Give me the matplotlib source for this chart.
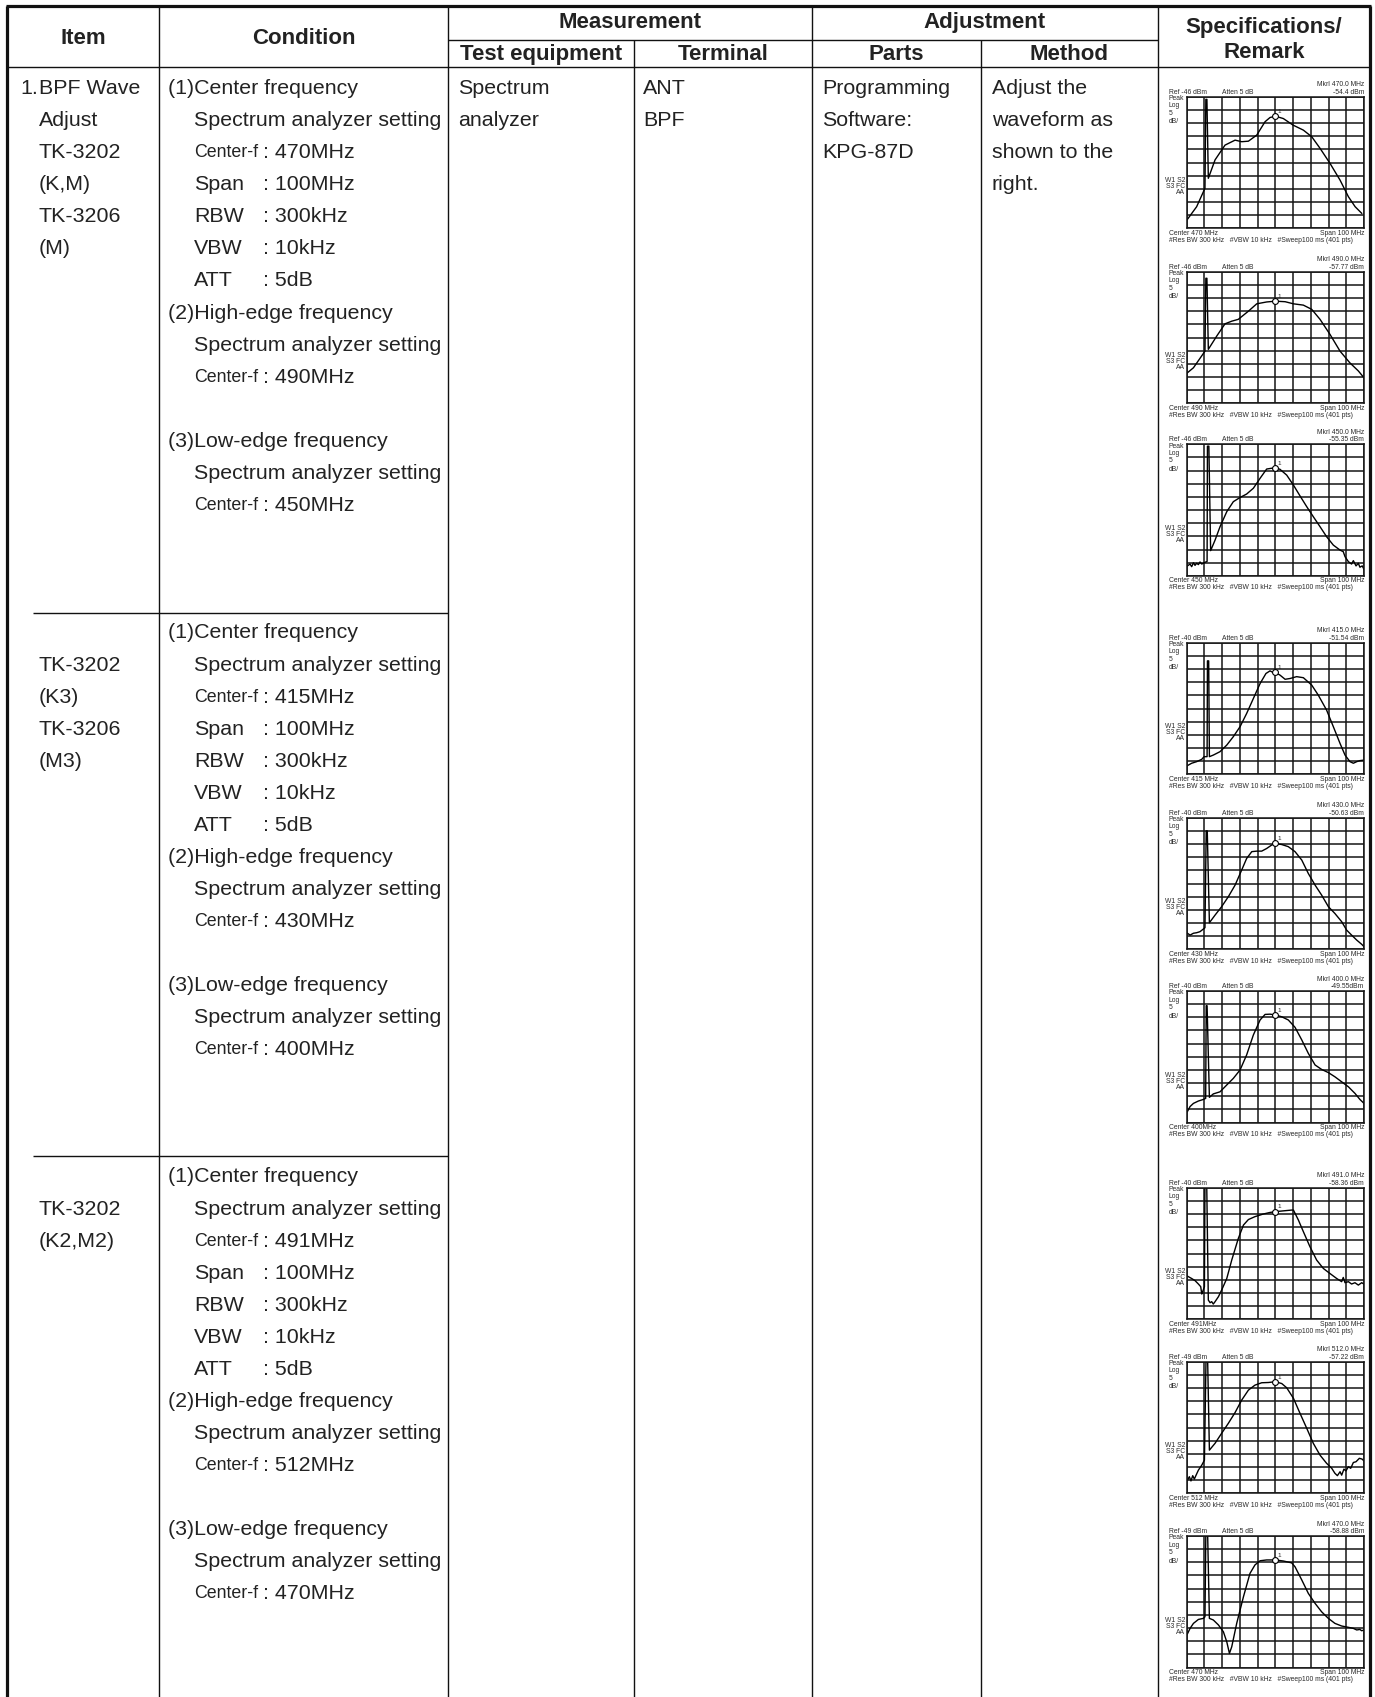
import numpy as np
import matplotlib
matplotlib.use('Agg')
import matplotlib.pyplot as plt
from matplotlib import font_manager

# ---------------- data ----------------
header_item = "Item"
header_condition = "Condition"
header_measure = "Measurement"
header_adjust = "Adjustment"
header_testeq = "Test equipment"
header_terminal = "Terminal"
header_parts = "Parts"
header_method = "Method"
header_spec = ["Specifications/", "Remark"]

item_lines = [["BPF Wave", "Adjust", "TK-3202", "(K,M)", "TK-3206", "(M)"],
              ["", "TK-3202", "(K3)", "TK-3206", "(M3)"],
              ["", "TK-3202", "(K2,M2)"]]
group_centers = [["470MHz", "490MHz", "450MHz"],
                 ["415MHz", "430MHz", "400MHz"],
                 ["491MHz", "512MHz", "470MHz"]]
span_txt, rbw_txt, vbw_txt, att_txt = "100MHz", "300kHz", "10kHz", "5dB"
test_equipment = ["Spectrum", "analyzer"]
terminal = ["ANT", "BPF"]
parts = ["Programming", "Software:", "KPG-87D"]
method = ["Adjust the", "waveform as", "shown to the", "right."]

# spectrum plots: centre (MHz), reference level (dBm), marker readout
spec_center = [470, 490, 450, 415, 430, 400, 491, 512, 470]
spec_center_lbl = ["470 MHz", "490 MHz", "450 MHz", "415 MHz", "430 MHz",
                   "400MHz", "491MHz", "512 MHz", "470 MHz"]
spec_ref = [-46, -46, -46, -40, -40, -40, -40, -49, -49]
spec_mkr = ["-54.4 dBm", "-57.77 dBm", "-55.35 dBm", "-51.54 dBm", "-50.63 dBm",
            "-49.55dBm", "-58.36 dBm", "-57.22 dBm", "-58.88 dBm"]

# traces: frequency offset from centre (MHz) and level below reference (dB)
trace1_mhz = [-49.6, -44.4, -39.7, -39.2, -38.6, -37.8, -34, -28.4, -22.7, -19, -15.2, -10.5, -5.8,
              -3, 0, 4.5, 10, 15.8, 20.5, 25.2, 30.8, 36.5, 41.2, 45, 48.7]
trace1_db = [46.6, 41.8, 34.8, 1, 1, 31, 24, 18.4, 16.5, 17.1, 16.9, 14.6, 9.5,
             7.9, 7.4, 8.3, 10.8, 12.7, 15.2, 19.6, 25.3, 31.7, 38, 41.8, 44.3]

trace2_mhz = [-49.6, -46.2, -39.7, -39.2, -38.6, -37.8, -33.1, -28.4, -24.6, -20.9, -15.2, -10.5,
              -4.9, 0, 5.5, 10.2, 15.8, 20.5, 25.2, 30.8, 36.5, 42, 46.8, 50]
trace2_db = [38.4, 36.5, 30.2, 2.5, 2.5, 29.5, 24.5, 19.8, 18.8, 18.1, 15, 12.2,
             11.5, 11.2, 11.4, 12.2, 12.7, 14.3, 18.1, 23.8, 30.2, 34.6, 37.7, 40.3]

trace3_mhz = [-49.6, -48.1, -47.2, -46.2, -45.3, -44.4, -43.4, -42.5, -41.5, -40.2, -38.5, -38.3,
              -37.5, -36.5, -34, -31.2, -27.4, -23.7, -19.9, -16.2, -12.4, -8.6, -4.9, -2.1, 0,
              2.6, 6.4, 10.2, 13.9, 17.7, 21.4, 25.2, 28.9, 32.7, 36.5, 38.3, 39.3, 41.2, 43,
              44, 45.5, 46.8, 47.7, 49, 50]
trace3_db = [46.2, 45.5, 46.5, 45, 46, 45.2, 45.7, 44.7, 45.5, 45, 44.5, 0.7,
             0.7, 40.4, 36.4, 31.3, 25.6, 21.8, 20.2, 18.9, 16.7, 12.9, 9.4, 9.1, 8.9,
             9.5, 11.7, 15.5, 19.6, 23.7, 27.5, 31.3, 35.1, 38.3, 40.2, 40.8, 42.7, 44.6, 45.5,
             44.2, 46.2, 45.2, 46.7, 46.2, 47.5]

trace4_mhz = [-49.6, -47.2, -44.4, -41.5, -40.2, -38.5, -38.3, -37.6, -37.2, -35, -31.2, -27.4,
              -23.7, -19.9, -16.2, -12.4, -8.6, -5.3, -3, -1.1, 0, 2.6, 5.5, 8.3, 12, 15.8,
              20.5, 24.2, 28.9, 32.7, 36.5, 39.3, 42.1, 44, 45.9, 47.7, 50]
trace4_db = [46.7, 45.8, 45.2, 44.3, 43.3, 43.3, 6.9, 6.9, 43.3, 42.7, 41.4, 38.9,
             35.7, 31.9, 26.9, 21.2, 15.5, 11.7, 10.7, 11.4, 11.3, 12.3, 13.9, 13.6, 12.9, 13.3,
             16.1, 19.9, 25.6, 31.9, 38.3, 42.7, 45.2, 45.8, 45.2, 44.8, 44.6]

trace5_mhz = [-49.6, -48.1, -46.2, -44.4, -42.5, -40.6, -39.7, -39.0, -38.4, -37.2, -34, -30.3,
              -26.5, -22.7, -19, -16.2, -13.3, -10.5, -7.7, -4.9, -2.1, 0, 3.6, 7.3, 11.1,
              14.9, 18.6, 22.4, 26.1, 29.9, 33.6, 37.4, 40.2, 43, 45.9, 48.7, 50]
trace5_db = [43.9, 44.6, 43.9, 43.7, 43.3, 42.3, 41.8, 5, 5, 39.9, 37, 33.8,
             30, 25.6, 19.9, 15.5, 12.9, 12.7, 12.7, 11.7, 10.4, 9.8, 10.2, 11, 12.9,
             16.1, 21.2, 25.6, 29.4, 33.8, 36.4, 39.5, 42.7, 44.6, 46.5, 48.1, 49]

trace6_mhz = [-49.6, -48.1, -46.2, -43.4, -40.6, -39.3, -39.0, -38.5, -37.2, -35, -31.2, -27.4,
              -23.7, -19.9, -16.2, -12.4, -8.6, -5.8, -3, 0, 3.6, 7.3, 11.1, 14.9, 18.6,
              22.4, 26.1, 29.9, 33.6, 37.4, 41.2, 44.9, 47.7, 50]
trace6_db = [45.8, 43.9, 42.7, 41.8, 41.2, 40.8, 5.6, 5.6, 40.4, 39.1, 38.3, 35.7,
             33.2, 30, 24.3, 16.7, 11, 8.9, 8.8, 9.1, 9.8, 11, 13.8, 18.6, 23.7,
             28.1, 29.8, 31, 32.6, 34.5, 36.4, 38.9, 41.2, 42.7]

trace7_mhz = [-49.6, -47.2, -45.3, -43.4, -42.1, -41.5, -41, -40, -39.7, -38.7, -37.8, -36.8,
              -35.9, -35, -34, -32.1, -30.3, -27.4, -24.6, -20.9, -18, -15.2, -11.5, -6.8, -3,
              0, 4.5, 9.2, 10.2, 13, 15.8, 19.5, 23.3, 27.1, 30.8, 34.6, 37.4, 38.3, 39.3,
              41.2, 43, 44.9, 46.8, 48.7, 50]
trace7_db = [33.6, 34.5, 35.3, 36.6, 37.6, 40.4, 39.5, 37.6, -1, -1, 42.7, 43.7,
             43.3, 44.2, 43.3, 41.4, 38.9, 34.5, 27.5, 19.3, 14.2, 12.1, 11, 10, 9.4,
             9.1, 8.8, 8.5, 8.5, 12.3, 16.7, 22.4, 27.5, 30.7, 32.6, 34.5, 35.7, 34.1, 36.1,
             35.7, 36.6, 36.1, 37, 36.1, 36.6]

trace8_mhz = [-49.6, -48.5, -47.6, -46.6, -45.7, -44.7, -43.4, -41.5, -40, -39.1, -38.2, -37.2,
              -34, -30.3, -26.5, -22.7, -19, -15.2, -11.5, -7.7, -3.9, 0, 3.6, 6.4, 10.2,
              13.9, 17.7, 21.4, 25.2, 28.9, 31.8, 33.6, 35, 36.5, 37.4, 38.7, 39.8, 41.2,
              42.5, 44, 45.5, 47.4, 48.9, 50]
trace8_db = [45, 43.7, 45.3, 43.3, 44.6, 43.1, 41.2, 39.3, 37.4, -1, -1, 33.6,
             31, 27.2, 23.4, 19.3, 14.6, 10.8, 8.9, 8, 7.9, 7.6, 8.3, 9.9, 13.9,
             19.6, 25.3, 31, 35.5, 38.6, 40.5, 42.4, 43.3, 41.8, 43.1, 40.8, 41.5, 39.9,
             40.5, 38.3, 38, 36.7, 37, 37.7]

trace9_mhz = [-49.6, -48.1, -46.2, -43.4, -40.6, -39.7, -39.2, -38.2, -37.2, -35, -32.1, -29.3,
              -27.4, -25.9, -24.6, -21.8, -18, -14.3, -11.5, -8.6, -4.9, 0, 4.5, 9.2, 11.1,
              14.9, 18.6, 22.4, 26.1, 29.9, 33.6, 37.4, 41.2, 44, 45.9, 47.7, 48.7, 50]
trace9_db = [37.2, 35.1, 33.2, 31.7, 31.3, 30.7, -1, -1, 31.3, 31.9, 33.8, 36.4,
             40.2, 44.6, 42.1, 33.2, 23.1, 14.2, 11, 9.4, 9.1, 9.1, 9.5, 10.2, 11.7,
             16.7, 21.8, 25.6, 28.8, 31.3, 33.2, 34.2, 34.7, 35.1, 35.7, 35.5, 36, 35.7]

traces = [(trace1_mhz, trace1_db), (trace2_mhz, trace2_db), (trace3_mhz, trace3_db),
          (trace4_mhz, trace4_db), (trace5_mhz, trace5_db), (trace6_mhz, trace6_db),
          (trace7_mhz, trace7_db), (trace8_mhz, trace8_db), (trace9_mhz, trace9_db)]

# ---------------- layout ----------------
W, H, DPI = 1375, 1697, 100
names = {f.name for f in font_manager.fontManager.ttflist}
NARROW = 'Liberation Sans Narrow' in names
BODY = ['Liberation Sans', 'DejaVu Sans']
COND = ['Liberation Sans Narrow', 'Liberation Sans', 'DejaVu Sans'] if NARROW else BODY
HEAD_FS = 17.5 if NARROW else 16.0
BODY_FS = 15.4
CF_FS = 15.4 if NARROW else 12.8     # the condensed "Center-f" label
TXT = '#222222'

fig = plt.figure(figsize=(W / DPI, H / DPI), dpi=DPI)
fig.patch.set_facecolor('white')
ov = fig.add_axes([0, 0, 1, 1])
ov.set_xlim(0, W)
ov.set_ylim(H, 0)
ov.axis('off')

X_L, X_IC, X_CT, X_TT, X_TP, X_PM, X_MS, X_R = 7, 159, 448, 634, 812, 981, 1158, 1370
Y_T, Y_HM, Y_HB = 5.5, 40, 67
thick, thin = 2.3, 1.0

def hline(y, x0, x1, lw=thin):
    ov.plot([x0, x1], [y, y], color='#111', lw=lw, solid_capstyle='butt')

def vline(x, y0, y1, lw=thin):
    ov.plot([x, x], [y0, y1], color='#111', lw=lw, solid_capstyle='butt')

hline(Y_T, X_L - 1, X_R + 1, thick)
vline(X_L, Y_T, H, thick)
vline(X_R, Y_T, H, thick)
for x in (X_IC, X_CT, X_TP, X_MS):
    vline(x, Y_T, H)
for x in (X_TT, X_PM):
    vline(x, Y_HM, H)
hline(Y_HM, X_CT, X_MS)
hline(Y_HB, X_L, X_R)
group_y = [88.7, 633, 1177]
for y in (613, 1156):
    hline(y, 33, X_CT)

hk = dict(family=COND, fontsize=HEAD_FS, fontweight='bold', color=TXT, ha='center', va='center')
ov.text((X_L + X_IC) / 2, 38, header_item, **hk)
ov.text((X_IC + X_CT) / 2, 38, header_condition, **hk)
ov.text((X_CT + X_TP) / 2, 22.5, header_measure, **hk)
ov.text((X_TP + X_MS) / 2, 22.5, header_adjust, **hk)
ov.text((X_CT + X_TT) / 2, 54.5, header_testeq, **hk)
ov.text((X_TT + X_TP) / 2, 54.5, header_terminal, **hk)
ov.text((X_TP + X_PM) / 2, 54.5, header_parts, **hk)
ov.text((X_PM + X_MS) / 2, 54.5, header_method, **hk)
ov.text((X_MS + X_R) / 2, 27.5, header_spec[0], **hk)
ov.text((X_MS + X_R) / 2, 52, header_spec[1], **hk)

bk = dict(family=BODY, fontsize=BODY_FS, color=TXT, ha='left', va='center')
cfk = {**bk, 'family': COND, 'fontsize': CF_FS}
STEP = 32.05

def row(g, i):
    return group_y[g] + i * STEP

# item column
ov.text(20, row(0, 0), "1.", **bk)
for g, lines in enumerate(item_lines):
    for i, t in enumerate(lines):
        if t:
            ov.text(39, row(g, i), t, **bk)

# condition column
COLON_X = 263
for g in range(3):
    c = group_centers[g]
    ov.text(168, row(g, 0), "(1)Center frequency", **bk)
    ov.text(194, row(g, 1), "Spectrum analyzer setting", **bk)
    settings = [("Center-f", c[0]), ("Span", span_txt), ("RBW", rbw_txt),
                ("VBW", vbw_txt), ("ATT", att_txt)]
    for k, (lab, val) in enumerate(settings):
        ov.text(194, row(g, 2 + k), lab, **(cfk if lab == "Center-f" else bk))
        ov.text(COLON_X, row(g, 2 + k), ": " + val, **bk)
    ov.text(168, row(g, 7), "(2)High-edge frequency", **bk)
    ov.text(194, row(g, 8), "Spectrum analyzer setting", **bk)
    ov.text(194, row(g, 9), "Center-f", **cfk)
    ov.text(COLON_X, row(g, 9), ": " + c[1], **bk)
    ov.text(168, row(g, 11), "(3)Low-edge frequency", **bk)
    ov.text(194, row(g, 12), "Spectrum analyzer setting", **bk)
    ov.text(194, row(g, 13), "Center-f", **cfk)
    ov.text(COLON_X, row(g, 13), ": " + c[2], **bk)

for i, t in enumerate(test_equipment):
    ov.text(458, row(0, i), t, **bk)
for i, t in enumerate(terminal):
    ov.text(643, row(0, i), t, **bk)
for i, t in enumerate(parts):
    ov.text(822, row(0, i), t, **bk)
for i, t in enumerate(method):
    ov.text(992, row(0, i), t, **bk)

# ---------------- spectrum screenshots ----------------
plot_tops = [96.7, 271.7, 444.3, 642.7, 817.7, 991, 1187.7, 1361.7, 1536]
GL, GW, GH = 1186.7, 177.3, 131.6
SFS = 4.9
SCOL = '#2a2a2a'
SF = COND

for k in range(9):
    top = plot_tops[k]
    ax = fig.add_axes([GL / W, 1 - (top + GH) / H, GW / W, GH / H])
    cen, ref = spec_center[k], spec_ref[k]
    ax.set_xlim(cen - 50, cen + 50)
    ax.set_ylim(ref - 50, ref)
    ax.set_xticks(np.arange(cen - 50, cen + 51, 10))
    ax.set_yticks(np.arange(ref - 50, ref + 1, 5))
    ax.grid(True, color='#151515', lw=1.1)
    ax.tick_params(length=0, labelbottom=False, labelleft=False)
    for s in ax.spines.values():
        s.set_linewidth(1.1)
        s.set_color('#151515')
    off, drop = traces[k]
    f = cen + np.array(off, float)
    lv = ref - np.array(drop, float)
    ax.plot(f, lv, color='k', lw=1.0)
    my = np.interp(cen, f, lv)
    ax.plot([cen], [my], marker='o', ms=4.2, mfc='white', mec='k', mew=0.8, zorder=5)
    ax.text(cen + 1.2, my + 1.2, '1', fontsize=4.6, color=SCOL, family=SF)
    tk = dict(transform=ax.transAxes, fontsize=SFS, color=SCOL, family=SF, clip_on=False)
    ax.text(1.0, 1.089, "Mkrl %.1f MHz" % cen, ha='right', va='center', **tk)
    ax.text(1.0, 1.035, spec_mkr[k], ha='right', va='center', **tk)
    ax.text(-0.1, 1.035, "Ref %d dBm" % ref, ha='left', va='center', **tk)
    ax.text(0.2, 1.035, "Atten 5 dB", ha='left', va='center', **tk)
    for lab, yy in zip(["Peak", "Log", "5", "dB/"], [0.985, 0.93, 0.875, 0.808]):
        ax.text(-0.1, yy, lab, ha='left', va='center', **tk)
    for lab, yy in zip(["W1 S2", "S3 FC", "AA"], [0.36, 0.315, 0.27]):
        ax.text(-0.01, yy, lab, ha='right', va='center', **tk)
    ax.text(-0.1, -0.036, "Center " + spec_center_lbl[k], ha='left', va='center', **tk)
    ax.text(1.0, -0.036, "Span 100 MHz", ha='right', va='center', **tk)
    ax.text(-0.1, -0.089, "#Res BW 300 kHz   #VBW 10 kHz   #Sweep100 ms (401 pts)",
            ha='left', va='center', **tk)

fig.savefig('out.png', dpi=DPI, facecolor='white')
